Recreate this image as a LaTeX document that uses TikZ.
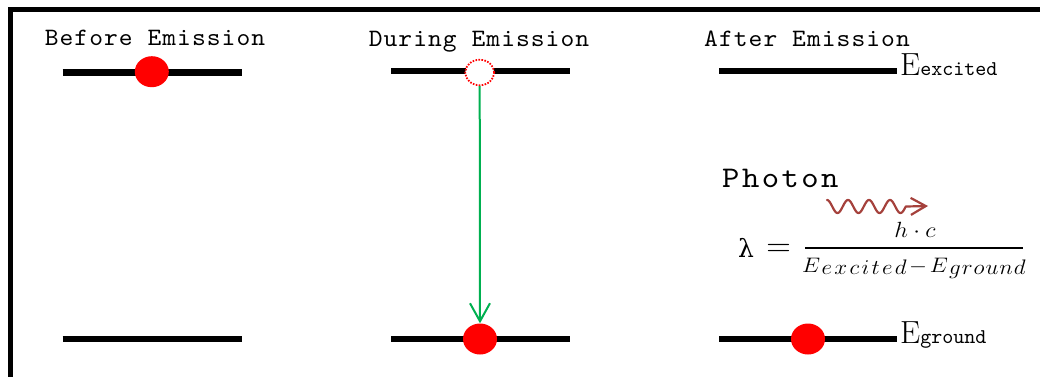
\RequirePackage{fix-cm}
\documentclass[tikz,border=0pt]{standalone}
\usepackage{graphicx}
\usepackage{fontspec}
\newfontfamily\grk{DejaVu Serif}
\newfontfamily\titlemono[LetterSpace=4]{lmmono10-regular.otf}
\newfontfamily\photonmono[LetterSpace=7.5]{lmmono10-regular.otf}
\newfontfamily\plainmono{lmmono10-regular.otf}
\usetikzlibrary{shapes.geometric,arrows.meta}
\definecolor{dotred}{RGB}{255,0,0}
\definecolor{arrgreen}{RGB}{0,176,80}
\definecolor{photonred}{RGB}{165,65,60}
\newcommand\gp{\mkern1.8mu}
\newcommand\gq{\mkern0.8mu}
\newcommand\wide[1]{\scalebox{1.05}[1]{#1}}
\newcommand\wider[1]{\scalebox{1.1}[1]{#1}}
\begin{document}
\begin{tikzpicture}[x=1pt,y=-1pt,
  level/.style={line width=6.5pt},
  electron/.style={ellipse, fill=dotred, minimum width=34pt, minimum height=31pt, inner sep=0pt},
  hole/.style={ellipse, draw=dotred, fill=white, dash pattern=on 1.6pt off 1.4pt, line width=1.8pt, minimum width=29pt, minimum height=25.5pt, inner sep=0pt},
  title/.style={font=\titlemono\fontsize{25}{25}\selectfont, anchor=base, inner sep=0pt},
  elabel/.style={anchor=base west, inner sep=0pt},
  ]
\useasboundingbox (0,0) rectangle (1040,376);
\clip (0,0) rectangle (1040,376);
% frame
\draw[line width=4.3pt] (10.5,380) -- (10.5,9.5) -- (1045,9.5);
% titles
\node[title] (t1) at (155,45.7) {\wide{Before Emission}};
\node[title] (t2) at (479,46) {\wide{During Emission}};
\node[title] (t3) at (807,46) {\wide{After Emission}};
% levels
\draw[level] (62.7,72.6) -- (241.7,72.6);
\draw[level] (62.7,339) -- (241.7,339);
\draw[level] (391,71) -- (569.5,71);
\draw[level] (391,339) -- (569.5,339);
\draw[level] (719,71) -- (897,71);
\draw[level] (719,339) -- (897,339);
% electrons
\node[electron] (e1) at (151.8,71.7) {};
\node[hole] (h2) at (479.7,72.5) {};
\node[electron] (e2) at (480,339) {};
\node[electron] (e3) at (808,339) {};
% transition
\draw[arrgreen, line width=2pt, -{Straight Barb[length=18pt,width=20pt]}] (h2.south) -- (e2.north);
% energy labels
\node[elabel] (Eex) at (900,75.5) {\fontsize{32}{32}\selectfont E{\plainmono\fontsize{21}{21}\selectfont excited}};
\node[elabel] (Egr) at (900,343) {\fontsize{32}{32}\selectfont E{\plainmono\fontsize{21}{21}\selectfont ground}};
% photon
\node[anchor=base west, inner sep=0pt, font=\photonmono\fontsize{30}{30}\selectfont] (ph) at (722,187) {\wider{Photon}};
\coordinate (wtip) at (928,206);
\draw[photonred, line width=2.2pt, line cap=round, line join=round, -{Straight Barb[length=15pt,width=17pt]}]
  plot[domain=0:78.75, samples=120, smooth] ({827+\x}, {206.5-6.5*cos(17.142857*\x)}) -- (wtip);
% formula
\node[anchor=base west, inner sep=0pt, font=\grk\fontsize{25}{25}\selectfont] (lam) at (738,257) {λ};
\node[anchor=base, inner sep=0pt, font=\fontsize{34}{34}\selectfont] (eq) at (778.5,256) {$=$};
\node[anchor=base, inner sep=0pt, font=\fontsize{22}{22}\selectfont] (num) at (915,237) {\wider{$h\cdot c$}};
\draw[line width=2.2pt] (805,248) -- (1023,248);
\node[anchor=base, inner sep=0pt, font=\fontsize{21}{21}\selectfont] (den) at (914,272)
  {\wider{$E\mkern1mu$\raisebox{-2pt}{$e\gp x\gp c\gp i\gp t\gp e\gp d$}$\mkern2mu-\mkern2mu E\mkern1mu$\raisebox{-2pt}{$g\gq r\gq o\gq u\gq n\gq d$}}};
\end{tikzpicture}
\end{document}
